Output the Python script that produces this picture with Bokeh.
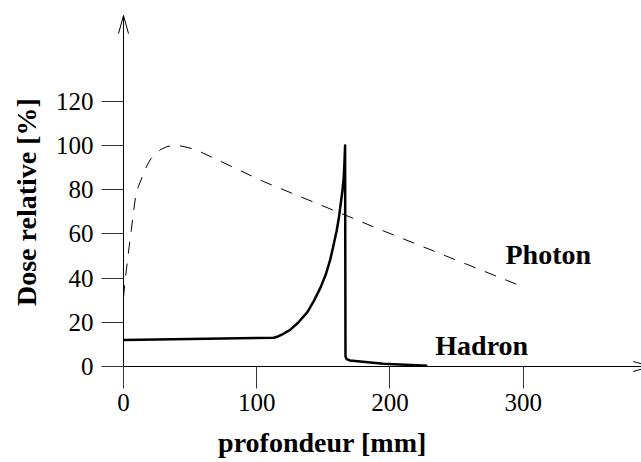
import math
from bokeh.plotting import figure
from bokeh.models import Label, FixedTicker
from bokeh.embed import file_html
from bokeh.resources import INLINE

# ---- data ----
photon_x = [0, 1.2, 2.7, 4.2, 5.8, 7.3, 9, 11.2, 14, 17.7, 20.5, 24, 28, 32.7, 38, 44, 54,
            105, 166.5, 191.6, 300]
photon_y = [31.3, 39, 46.5, 54, 61.5, 69, 76.6, 81.5, 85.7, 91, 94, 96.2, 98.2, 99.5, 100.1,
            99.7, 98.2, 83.7, 68.5, 62.2, 36]

hadron_x = [0, 112.7, 116, 120, 125, 131, 138, 143, 148, 152, 155, 157.5, 160, 161.7, 163,
            164.3, 165.3, 165.8, 166.3, 166.6, 167.5, 170, 195, 228]
hadron_y = [12, 13, 13.6, 14.8, 16.6, 19.8, 24.6, 29.8, 35.9, 42, 48, 54.5, 61.5, 67.5, 73.6,
            79.5, 85.7, 92, 100, 4.5, 3.3, 2.7, 1.2, 0.3]

x_ticks = [0, 100, 200, 300]
y_ticks = [0, 20, 40, 60, 80, 100, 120]

x_title = "profondeur [mm]"
y_title = "Dose relative [%]"
series_labels = ["Photon", "Hadron"]
label_pos = [(286.7, 50.7), (234, 9.4)]

# axis extents (arrow tips)
X_TIP = 396.0
Y_TIP = 158.8

W, H = 641, 462
SX = 517 / 388.0   # px per x unit
SY = 2.21          # px per y unit
X0_PX, Y0_PX = 123, 366

SERIF = "Liberation Serif"

p = figure(width=W, height=H, output_backend="svg", toolbar_location=None,
           x_range=(-X0_PX / SX, (W - X0_PX) / SX),
           y_range=(-(H - Y0_PX) / SY, Y0_PX / SY),
           min_border=0, min_border_left=0, min_border_right=0,
           min_border_top=0, min_border_bottom=0)
p.outline_line_color = None
p.grid.visible = False
p.background_fill_color = "white"
p.border_fill_color = "white"

for ax, ticks, standoff, bounds in ((p.xaxis, x_ticks, 5, (0, X_TIP)),
                                    (p.yaxis, y_ticks, 8, (0, Y_TIP))):
    ax.fixed_location = 0
    ax.bounds = bounds
    ax.ticker = FixedTicker(ticks=ticks)
    ax.major_tick_out = 22
    ax.major_tick_in = 0
    ax.minor_tick_out = 0
    ax.minor_tick_in = 0
    ax.axis_line_color = "black"
    ax.axis_line_width = 1
    ax.major_tick_line_color = "#333333"
    ax.major_tick_line_width = 1
    ax.major_label_text_font = SERIF
    ax.major_label_text_font_size = "25px"
    ax.major_label_text_color = "black"
    ax.major_label_standoff = standoff

# arrow heads (open V) at the axis ends, 18px long, 5px half width
p.segment(x0=[X_TIP - 18 / SX, X_TIP - 18 / SX], y0=[5 / SY, -5 / SY],
          x1=[X_TIP, X_TIP], y1=[0, 0], line_color="black", line_width=1)
p.segment(x0=[-5 / SX, 5 / SX], y0=[Y_TIP - 18 / SY, Y_TIP - 18 / SY],
          x1=[0, 0], y1=[Y_TIP, Y_TIP], line_color="black", line_width=1)

# curves
p.line(photon_x, photon_y, line_color="black", line_width=1, line_dash="12 10")
p.line(hadron_x, hadron_y, line_color="black", line_width=2.5, line_join="round")

for txt, (lx, ly) in zip(series_labels, label_pos):
    p.add_layout(Label(x=lx, y=ly, text=txt, text_font=SERIF, text_font_size="28px",
                       text_font_style="bold", text_color="black",
                       text_baseline="alphabetic", text_align="left"))

p.add_layout(Label(x=149.3, y=-34.6, text=x_title, text_font=SERIF, text_font_size="28px",
                   text_font_style="bold", text_color="black",
                   text_baseline="alphabetic", text_align="center"))
p.add_layout(Label(x=-73, y=74.4, text=y_title, text_font=SERIF, text_font_size="28px",
                   text_font_style="bold", text_color="black", angle=math.pi / 2,
                   text_baseline="middle", text_align="center"))

open("out.html", "w").write(file_html(p, INLINE))
